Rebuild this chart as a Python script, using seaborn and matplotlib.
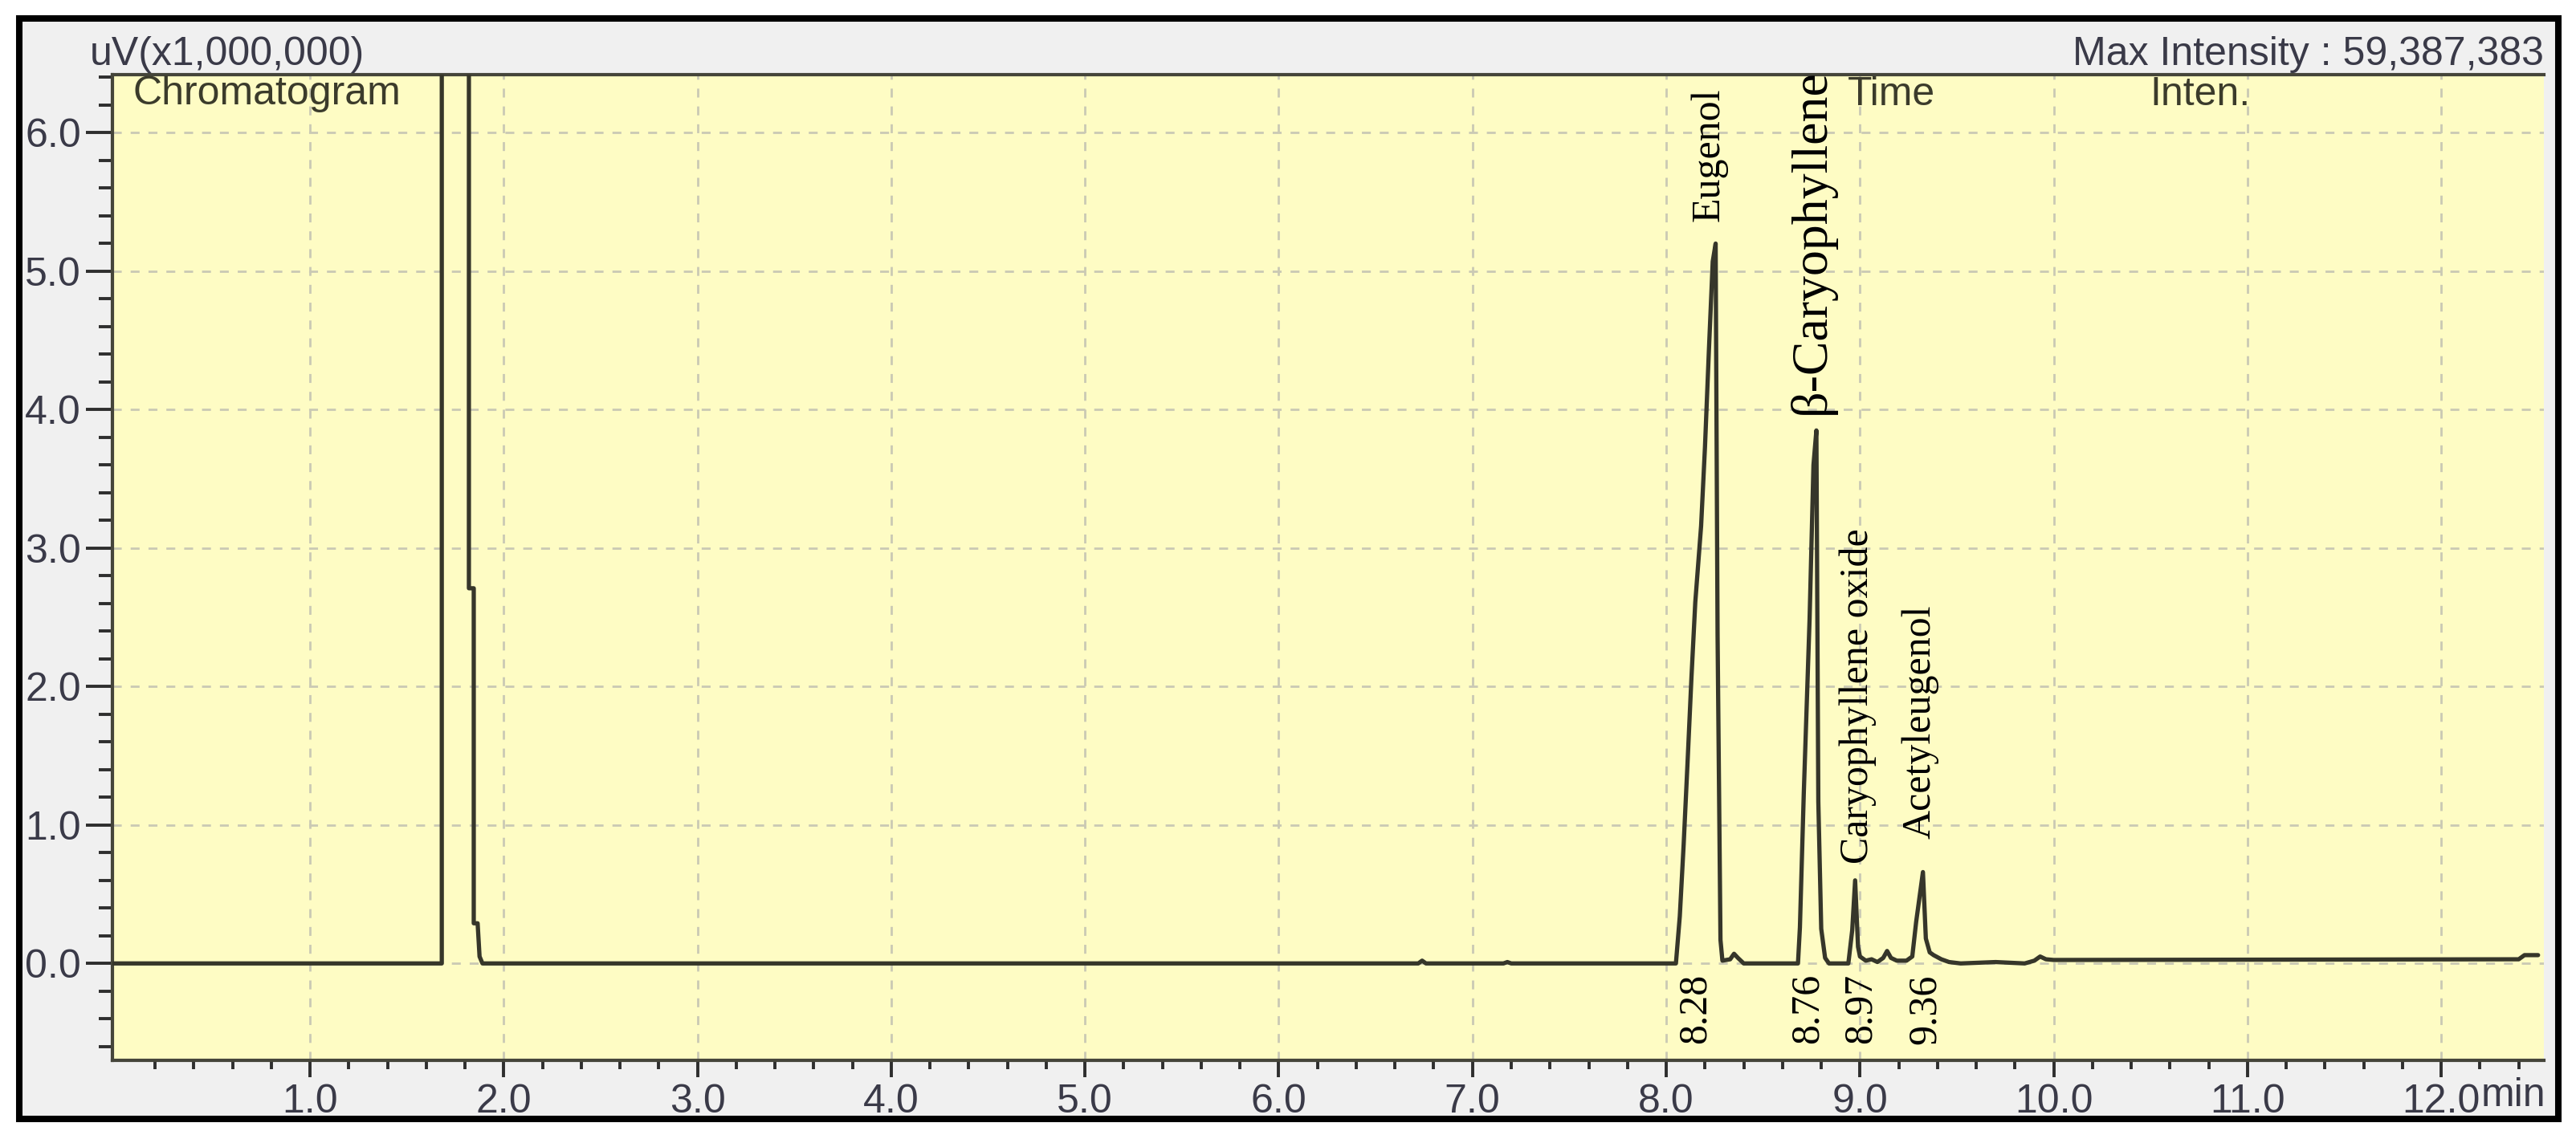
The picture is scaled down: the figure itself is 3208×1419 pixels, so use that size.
import numpy as np
import pandas as pd
import matplotlib
matplotlib.use("Agg")
import matplotlib.pyplot as plt
import seaborn as sns
from matplotlib.patches import Rectangle
from matplotlib.ticker import FixedLocator

# ---------------- data ----------------
time_min = [-0.02, 1.68, 1.68, 1.82, 1.82, 1.845, 1.845, 1.865, 1.875, 1.89,
            6.72, 6.74, 6.76, 7.16, 7.18, 7.20,
            8.05, 8.07, 8.09, 8.11, 8.13, 8.15, 8.18, 8.20, 8.22, 8.24, 8.255,
            8.265, 8.28, 8.29, 8.33, 8.35, 8.37, 8.40,
            8.68, 8.69, 8.71, 8.74, 8.76, 8.775, 8.785, 8.80, 8.82, 8.84,
            8.94, 8.96, 8.975, 8.99, 9.00, 9.03, 9.06, 9.09, 9.12, 9.14, 9.16,
            9.19, 9.24, 9.27, 9.29, 9.325, 9.34, 9.36, 9.38, 9.42, 9.46, 9.52,
            9.70, 9.85, 9.90, 9.93, 9.96, 10.00, 12.40, 12.43, 12.50]
intensity = [0.0, 0.0, 59.39, 59.39, 2.71, 2.71, 0.29, 0.29, 0.05, 0.0,
             0.0, 0.02, 0.0, 0.0, 0.01, 0.0,
             0.0, 0.34, 0.86, 1.45, 2.06, 2.61, 3.16, 3.73, 4.42, 5.07, 5.20,
             2.37, 0.17, 0.02, 0.03, 0.07, 0.04, 0.0,
             0.0, 0.26, 1.23, 2.49, 3.60, 3.85, 1.17, 0.25, 0.04, 0.0,
             0.0, 0.24, 0.60, 0.12, 0.05, 0.02, 0.03, 0.01, 0.04, 0.09, 0.04,
             0.02, 0.02, 0.05, 0.30, 0.66, 0.18, 0.08, 0.06, 0.03, 0.01, 0.0,
             0.01, 0.0, 0.02, 0.05, 0.03, 0.025, 0.03, 0.06, 0.06]

peak_names = ["Eugenol", "\u03b2-Caryophyllene", "Caryophyllene oxide", "Acetyleugenol"]
peak_name_x = [8.22, 8.75, 8.99, 9.31]
peak_name_y = [5.36, 3.97, 0.72, 0.90]
peak_name_size = [18, 23, 18, 18]
rt_labels = ["8.28", "8.76", "8.97", "9.36"]
rt_label_x = [8.15, 8.73, 9.005, 9.335]

x_major = [1, 2, 3, 4, 5, 6, 7, 8, 9, 10, 11, 12]
x_major_labels = ["1.0", "2.0", "3.0", "4.0", "5.0", "6.0", "7.0", "8.0",
                  "9.0", "10.0", "11.0", "12.0"]
y_major = [0, 1, 2, 3, 4, 5, 6]
y_major_labels = ["0.0", "1.0", "2.0", "3.0", "4.0", "5.0", "6.0"]

df = pd.DataFrame({"time": time_min, "inten": intensity})

# ---------------- figure ----------------
sns.set_theme(style="white")
plt.rcParams["font.family"] = ["Liberation Sans", "DejaVu Sans"]

W, H, DPI = 3208, 1419, 200
fig = plt.figure(figsize=(W / DPI, H / DPI), dpi=DPI, facecolor="white")

# outer window frame
fig.patches.append(Rectangle((24 / W, 1 - 1394 / H), (3186 - 24) / W, (1394 - 23) / H,
                             transform=fig.transFigure, facecolor="#F0F0F0",
                             edgecolor="black", linewidth=2.9, zorder=-10))

ax = fig.add_axes([140 / W, 1 - 1321 / H, (3168 - 140) / W, (1321 - 93) / H])
ax.set_zorder(1)
ax.set_facecolor("#FEFCC4")

sns.lineplot(data=df, x="time", y="inten", sort=False, estimator=None,
             color="#36362a", linewidth=1.9, ax=ax, zorder=3)

ax.set_xlim(-0.02, 12.53)
ax.set_ylim(-0.70, 6.42)

ax.xaxis.set_major_locator(FixedLocator(x_major))
ax.set_xticklabels(x_major_labels)
ax.xaxis.set_minor_locator(FixedLocator([round(0.2 * i, 1) for i in range(1, 63) if i % 5 != 0]))
ax.yaxis.set_major_locator(FixedLocator(y_major))
ax.set_yticklabels(y_major_labels)
ax.yaxis.set_minor_locator(FixedLocator([round(-0.6 + 0.2 * i, 1) for i in range(0, 36)
                                         if abs(round(-0.6 + 0.2 * i, 1) * 5) % 5 != 0]))

tick_col = "#3a3a48"
ax.tick_params(axis="x", which="major", direction="out", length=7.5, width=1.4,
               color="#2e2e2e", labelsize=18, labelcolor=tick_col, pad=3, bottom=True)
ax.tick_params(axis="x", which="minor", direction="out", length=3.8, width=1.4,
               color="#2e2e2e", bottom=True)
ax.tick_params(axis="y", which="major", direction="out", length=12, width=1.4,
               color="#2e2e2e", labelsize=18, labelcolor=tick_col, pad=2, left=True)
ax.tick_params(axis="y", which="minor", direction="out", length=6, width=1.4,
               color="#2e2e2e", left=True)

for side in ["left", "bottom", "top"]:
    ax.spines[side].set_color("#45453a")
    ax.spines[side].set_linewidth(1.5)
ax.spines["right"].set_visible(False)

ax.grid(True, which="major", color="#CAC9B4", linestyle=(0, (4, 4)), linewidth=1.0, zorder=1)
ax.set_axisbelow(True)
ax.set_xlabel("")
ax.set_ylabel("")

# "min" after 12.0 label
ax.annotate("min", xy=(12.0, 0), xycoords=("data", "axes fraction"),
            xytext=(17.8, -16), textcoords="offset points", ha="left", va="center",
            fontsize=18, color=tick_col)

# header texts
fig.text(112 / W, 1 - 68 / H, "uV(x1,000,000)", ha="left", va="center",
         fontsize=18, color=tick_col)
fig.text(3168 / W, 1 - 68 / H, "Max Intensity : 59,387,383", ha="right", va="center",
         fontsize=18, color=tick_col)
fig.text(165 / W, 1 - 117 / H, "Chromatogram", ha="left", va="center",
         fontsize=18, color="#3b3b2b", zorder=5)
fig.text(2355 / W, 1 - 118 / H, "Time", ha="center", va="center",
         fontsize=18, color="#3b3b2b", zorder=5)
fig.text(2740 / W, 1 - 118 / H, "Inten.", ha="center", va="center",
         fontsize=18, color="#3b3b2b", zorder=5)

# peak annotations
for name, px, py, fs in zip(peak_names, peak_name_x, peak_name_y, peak_name_size):
    ax.text(px, py, name, rotation=90, ha="center", va="bottom", fontsize=fs,
            family=["Liberation Serif", "DejaVu Serif"], color="black", zorder=4)
for lab, px in zip(rt_labels, rt_label_x):
    ax.text(px, -0.075, lab, rotation=90, ha="center", va="top", fontsize=18,
            family=["Liberation Serif", "DejaVu Serif"], color="black", zorder=4)

fig.savefig("out.png", dpi=DPI, facecolor="white")
